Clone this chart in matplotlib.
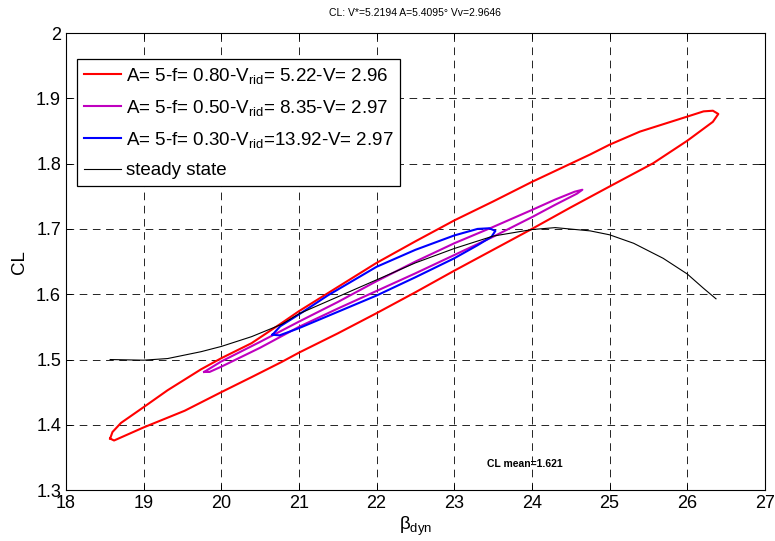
import matplotlib
matplotlib.use("Agg")
import matplotlib.pyplot as plt
from matplotlib.ticker import FuncFormatter

plt.rcParams['font.family'] = ['Liberation Sans', 'DejaVu Sans']
plt.rcParams['mathtext.fontset'] = 'custom'
plt.rcParams['mathtext.rm'] = 'Liberation Sans'
plt.rcParams['mathtext.it'] = 'Liberation Sans:italic'
plt.rcParams['mathtext.bf'] = 'Liberation Sans:bold'
plt.rcParams['lines.scale_dashes'] = False

# ---- data ----
red_x = [18.57, 18.60, 18.71, 19.0, 19.31, 19.74, 20.0, 20.39, 20.78, 21.0, 21.5, 22.0, 22.5, 23.0, 23.5,
         24.0, 24.5, 24.75, 25.0, 25.39, 26.0, 26.21, 26.33, 26.40,
         26.33, 26.0, 25.56, 25.0, 24.5, 24.0, 23.5, 23.0, 22.5, 22.0, 21.5, 21.0, 20.78,
         20.39, 20.0, 19.53, 19.0, 18.62, 18.57]
red_y = [1.379, 1.389, 1.403, 1.427, 1.453, 1.485, 1.502, 1.525, 1.556, 1.574, 1.611, 1.648, 1.681, 1.713, 1.742,
         1.772, 1.800, 1.814, 1.829, 1.849, 1.872, 1.880, 1.881, 1.876,
         1.864, 1.835, 1.8005, 1.765, 1.733, 1.700, 1.668, 1.636, 1.603, 1.571, 1.540, 1.5105, 1.4964,
         1.473, 1.450, 1.4216, 1.396, 1.376, 1.379]

mag_x = [19.78, 20.0, 20.5, 21.0, 21.5, 22.0, 22.5, 23.0, 23.5, 24.0, 24.3, 24.55, 24.65,
         24.58, 24.3, 24.0, 23.5, 23.0, 22.5, 22.0, 21.5, 21.0, 20.5, 20.0, 19.85, 19.78]
mag_y = [1.481, 1.497, 1.527, 1.558, 1.588, 1.620, 1.650, 1.678, 1.703, 1.729, 1.745, 1.757, 1.760,
         1.754, 1.737, 1.718, 1.688, 1.660, 1.632, 1.605, 1.578, 1.550, 1.518, 1.489, 1.481, 1.481]

blue_x = [20.66, 20.76, 21.0, 21.37, 22.0, 22.5, 23.0, 23.3, 23.45, 23.53,
          23.48, 23.3, 23.0, 22.5, 22.0, 21.5, 21.0, 20.75, 20.66]
blue_y = [1.538, 1.551, 1.569, 1.598, 1.642, 1.668, 1.690, 1.700, 1.701, 1.697,
          1.688, 1.675, 1.655, 1.626, 1.598, 1.573, 1.548, 1.537, 1.538]

ss_x = [18.57, 19.0, 19.31, 19.74, 20.0, 20.39, 20.78, 21.0, 21.5, 22.0, 22.5, 23.0, 23.5, 24.0,
        24.3, 24.75, 25.0, 25.31, 25.69, 26.0, 26.21, 26.37]
ss_y = [1.500, 1.499, 1.5015, 1.512, 1.520, 1.535, 1.554, 1.570, 1.596, 1.622, 1.648, 1.670, 1.689, 1.699,
        1.702, 1.697, 1.691, 1.678, 1.655, 1.631, 1.609, 1.593]

labels = ["A= 5-f= 0.80-V$_{\\rm rid}$= 5.22-V= 2.96",
          "A= 5-f= 0.50-V$_{\\rm rid}$= 8.35-V= 2.97",
          "A= 5-f= 0.30-V$_{\\rm rid}$=13.92-V= 2.97",
          "steady state"]
x_ticks = [18, 19, 20, 21, 22, 23, 24, 25, 26, 27]
y_ticks = [1.3, 1.4, 1.5, 1.6, 1.7, 1.8, 1.9, 2.0]
title = "CL: V*=5.2194 A=5.4095° Vv=2.9646"
mean_text = "CL mean=1.621"

fig = plt.figure(figsize=(7.75, 5.41), dpi=100)
ax = fig.add_axes([0.085, 0.094, 0.902, 0.845])

ax.plot(red_x, red_y, color='#ff0000', lw=1.5, label=labels[0])
ax.plot(mag_x, mag_y, color='#bf00bf', lw=1.5, label=labels[1])
ax.plot(blue_x, blue_y, color='#0000ff', lw=1.5, label=labels[2])
ax.plot(ss_x, ss_y, color='black', lw=0.8, label=labels[3])

ax.set_xlim(18, 27)
ax.set_ylim(1.3, 2.0)
ax.set_xticks(x_ticks)
ax.set_yticks(y_ticks)
ax.yaxis.set_major_formatter(FuncFormatter(lambda v, p: f"{v:g}"))
ax.tick_params(direction='in', top=True, right=True, length=4, width=0.7,
               labelsize=13, colors='black')
ax.grid(True, color='black', linestyle=(0, (5.5, 4)), lw=0.6)
for s in ax.spines.values():
    s.set_linewidth(0.8)

ax.set_xlabel("β$_{\\rm dyn}$", fontsize=13.5, labelpad=2)
ax.set_ylabel("CL", fontsize=13.5, labelpad=6)
ax.set_title(title, fontsize=7.5, pad=12)
ax.text(23.42, 1.340, mean_text, fontsize=7.5, fontweight='bold', va='center', ha='left')

leg = ax.legend(loc='upper left', bbox_to_anchor=(0.016, 0.943), fontsize=13.5,
                frameon=True, fancybox=False, shadow=False, handlelength=2.0,
                handletextpad=0.25, labelspacing=0.65, borderpad=0.35, borderaxespad=0)
leg.get_frame().set_edgecolor('black')
leg.get_frame().set_linewidth(0.9)
leg.get_frame().set_alpha(1)

fig.savefig("out.png", dpi=100)
